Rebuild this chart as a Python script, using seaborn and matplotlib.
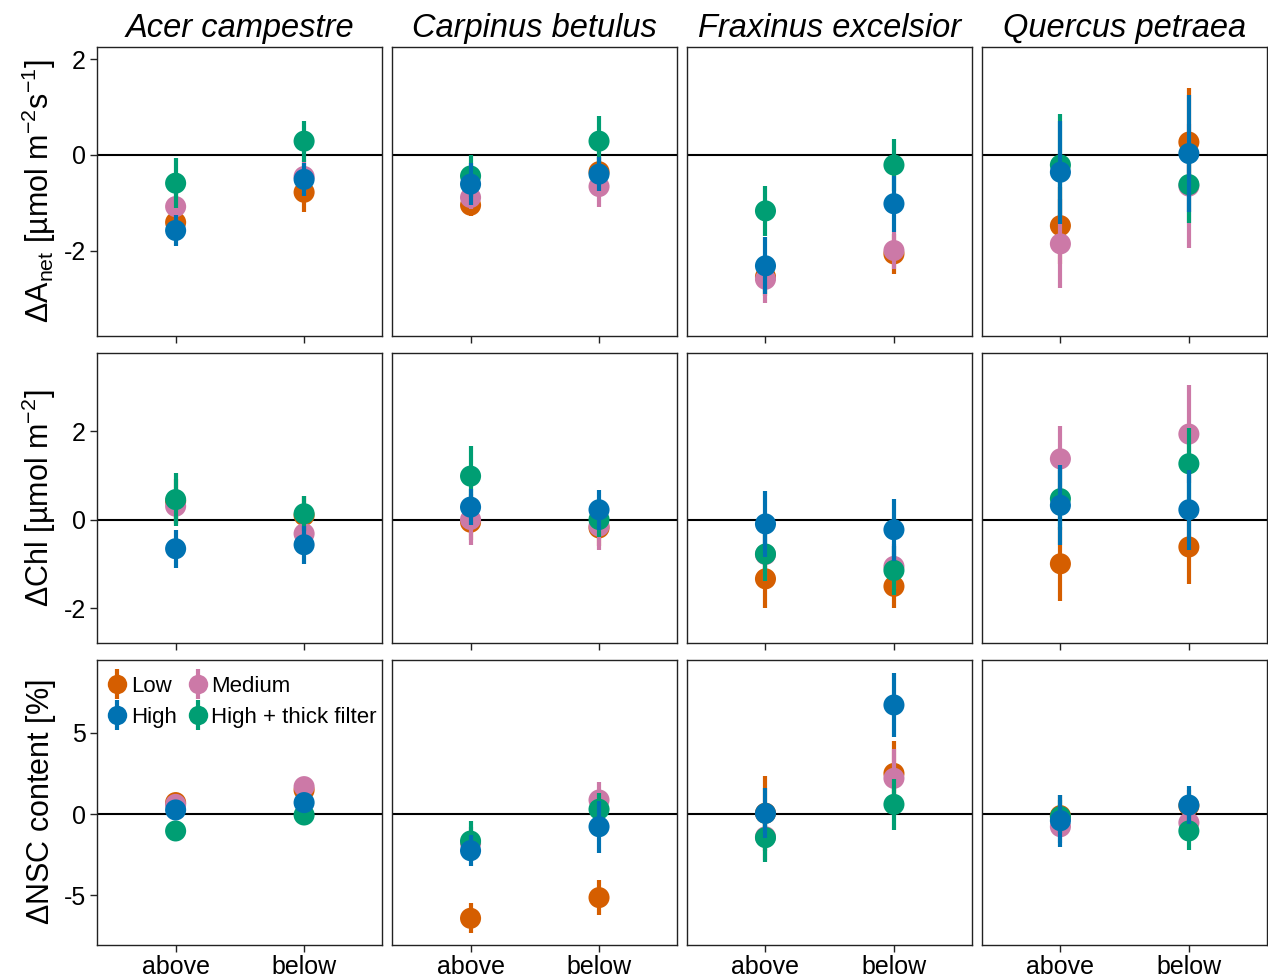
import numpy as np
import pandas as pd
import matplotlib
matplotlib.use("Agg")
import matplotlib.pyplot as plt
from matplotlib.lines import Line2D
import seaborn as sns

species = ["Acer campestre", "Carpinus betulus", "Fraxinus excelsior", "Quercus petraea"]
positions = ["above", "below"]
treatments = ["Low", "Medium", "High", "High + thick filter"]
colors = ["#D55E00", "#CC79A7", "#0072B2", "#009E73"]
draw_order = ["Low", "Medium", "High + thick filter", "High"]

# values per species: [above: Low, Medium, High, HTF, below: Low, Medium, High, HTF]
anet_mean = {
    "Acer campestre":     [-1.41, -1.08, -1.58, -0.59, -0.78, -0.45, -0.51, 0.29],
    "Carpinus betulus":   [-1.05, -0.89, -0.61, -0.44, -0.35, -0.66, -0.40, 0.29],
    "Fraxinus excelsior": [-2.55, -2.60, -2.32, -1.17, -2.07, -2.00, -1.02, -0.21],
    "Quercus petraea":    [-1.48, -1.86, -0.36, -0.21, 0.27, -0.65, 0.03, -0.62],
}
anet_se = {
    "Acer campestre":     [0.30, 0.30, 0.33, 0.53, 0.41, 0.35, 0.34, 0.43],
    "Carpinus betulus":   [0.23, 0.25, 0.44, 0.44, 0.30, 0.42, 0.35, 0.53],
    "Fraxinus excelsior": [0.40, 0.49, 0.60, 0.53, 0.42, 0.38, 0.59, 0.54],
    "Quercus petraea":    [0.80, 0.93, 1.08, 1.06, 1.13, 1.30, 1.22, 0.81],
}
chl_mean = {
    "Acer campestre":     [0.42, 0.31, -0.65, 0.46, 0.10, -0.31, -0.56, 0.14],
    "Carpinus betulus":   [-0.05, 0.01, 0.29, 0.99, -0.18, -0.14, 0.23, 0.01],
    "Fraxinus excelsior": [-1.33, -0.78, -0.09, -0.77, -1.50, -1.05, -0.22, -1.14],
    "Quercus petraea":    [-0.99, 1.38, 0.33, 0.48, -0.61, 1.94, 0.23, 1.27],
}
chl_se = {
    "Acer campestre":     [0.50, 0.40, 0.43, 0.60, 0.45, 0.35, 0.43, 0.40],
    "Carpinus betulus":   [0.40, 0.57, 0.40, 0.68, 0.40, 0.55, 0.45, 0.40],
    "Fraxinus excelsior": [0.65, 0.60, 0.74, 0.60, 0.49, 0.50, 0.70, 0.55],
    "Quercus petraea":    [0.84, 0.74, 0.90, 0.70, 0.83, 1.10, 0.90, 0.80],
}
nsc_mean = {
    "Acer campestre":     [0.70, 0.59, 0.25, -1.04, 1.47, 1.68, 0.70, -0.06],
    "Carpinus betulus":   [-6.40, -1.80, -2.25, -1.66, -5.13, 0.86, -0.78, 0.29],
    "Fraxinus excelsior": [0.05, -1.40, 0.04, -1.45, 2.49, 2.19, 6.69, 0.59],
    "Quercus petraea":    [-0.10, -0.78, -0.41, -0.16, 0.50, -0.53, 0.55, -1.04],
}
nsc_se = {
    "Acer campestre":     [0.30, 0.30, 0.30, 0.30, 0.50, 0.50, 0.50, 0.40],
    "Carpinus betulus":   [0.92, 1.00, 0.94, 1.25, 1.08, 1.10, 1.59, 1.00],
    "Fraxinus excelsior": [2.30, 1.40, 1.53, 1.52, 2.01, 1.80, 1.94, 1.57],
    "Quercus petraea":    [1.27, 1.00, 1.60, 1.00, 1.00, 1.00, 1.17, 1.17],
}

row_labels = [r"$\Delta\mathrm{A}_{\mathrm{net}}$ [µmol m$^{-2}$s$^{-1}$]",
              r"$\Delta$Chl [µmol m$^{-2}$]",
              r"$\Delta$NSC content [%]"]
row_ylims = [(-3.79, 2.26), (-2.78, 3.77), (-8.04, 9.45)]
row_yticks = [[-2, 0, 2], [-2, 0, 2], [-5, 0, 5]]

records = []
for var, (m, s) in zip(["anet", "chl", "nsc"],
                       [(anet_mean, anet_se), (chl_mean, chl_se), (nsc_mean, nsc_se)]):
    for sp in species:
        for i, (mv, sv) in enumerate(zip(m[sp], s[sp])):
            records.append(dict(var=var, species=sp, position=positions[i // 4],
                                treatment=treatments[i % 4], mean=mv, se=sv))
df = pd.DataFrame(records)
df["xpos"] = df["position"].map({p: i for i, p in enumerate(positions)})

sns.set_theme(style="white")
plt.rcParams["font.family"] = ["Liberation Sans", "DejaVu Sans"]
plt.rcParams["mathtext.fontset"] = "custom"
plt.rcParams["mathtext.rm"] = "Liberation Sans"
plt.rcParams["mathtext.it"] = "Liberation Sans:italic"
plt.rcParams["mathtext.bf"] = "Liberation Sans:bold"
plt.rcParams["axes.unicode_minus"] = False
plt.rcParams["text.color"] = "black"
plt.rcParams["axes.labelcolor"] = "black"
plt.rcParams["xtick.color"] = "black"
plt.rcParams["ytick.color"] = "black"

fig, axes = plt.subplots(3, 4, figsize=(12.68, 9.8), dpi=100, sharex=True,
                         gridspec_kw=dict(height_ratios=[289, 290, 285]))
fig.subplots_adjust(left=0.0765, right=0.999, top=0.952, bottom=0.0357,
                    wspace=0.035, hspace=0.059)

cmap = dict(zip(treatments, colors))
for r, var in enumerate(["anet", "chl", "nsc"]):
    for c, sp in enumerate(species):
        ax = axes[r, c]
        ax.axhline(0, color="black", lw=1.5, zorder=1)
        sub = df[(df["var"] == var) & (df["species"] == sp)]
        z = 2
        for t in draw_order:
            st = sub[sub["treatment"] == t]
            ax.vlines(st["xpos"], st["mean"] - st["se"], st["mean"] + st["se"],
                      color=cmap[t], lw=3.0, zorder=z)
            sns.scatterplot(data=st, x="xpos", y="mean", color=cmap[t], s=230,
                            edgecolor="none", linewidth=0, ax=ax, legend=False,
                            zorder=z + 0.5)
            z += 1
        ax.set_xlim(-0.612, 1.606)
        ax.set_ylim(*row_ylims[r])
        ax.set_xticks([0, 1])
        ax.set_xticklabels(positions)
        ax.set_xlabel("")
        ax.set_ylabel("")
        for sp_ in ax.spines.values():
            sp_.set_color("#222222")
            sp_.set_linewidth(1.0)
        ax.tick_params(axis="x", bottom=True, length=5, width=1, color="#222222",
                       labelsize=18, pad=2, labelcolor="black")
        ax.set_yticks(row_yticks[r])
        if c == 0:
            ax.tick_params(axis="y", left=True, length=5, width=1, color="#222222",
                           labelsize=18, pad=3, labelcolor="black")
            ax.set_ylabel(row_labels[r], fontsize=22, labelpad=4, color="black")
        else:
            ax.tick_params(axis="y", left=False, labelleft=False)
        if r == 0:
            ax.set_title(sp, fontsize=23.5, style="italic", pad=7, color="black")
        if r < 2:
            ax.tick_params(axis="x", labelbottom=False)

handles = []
for t in ["Low", "High", "Medium", "High + thick filter"]:
    col = cmap[t]
    handles.append((Line2D([], [], marker="|", markersize=22, mew=3, color=col, ls=""),
                    Line2D([], [], marker="o", markersize=14, color=col, ls="", mew=0)))
leg = axes[2, 0].legend(handles, ["Low", "High", "Medium", "High + thick filter"],
                        ncol=2, loc="upper left", frameon=False, fontsize=16,
                        handlelength=0.9, handletextpad=0.15, columnspacing=0.5,
                        labelspacing=0.45, borderaxespad=0.2,
                        bbox_to_anchor=(-0.01, 0.99))
for txt in leg.get_texts():
    txt.set_color("black")

fig.savefig("out.png", dpi=100)
